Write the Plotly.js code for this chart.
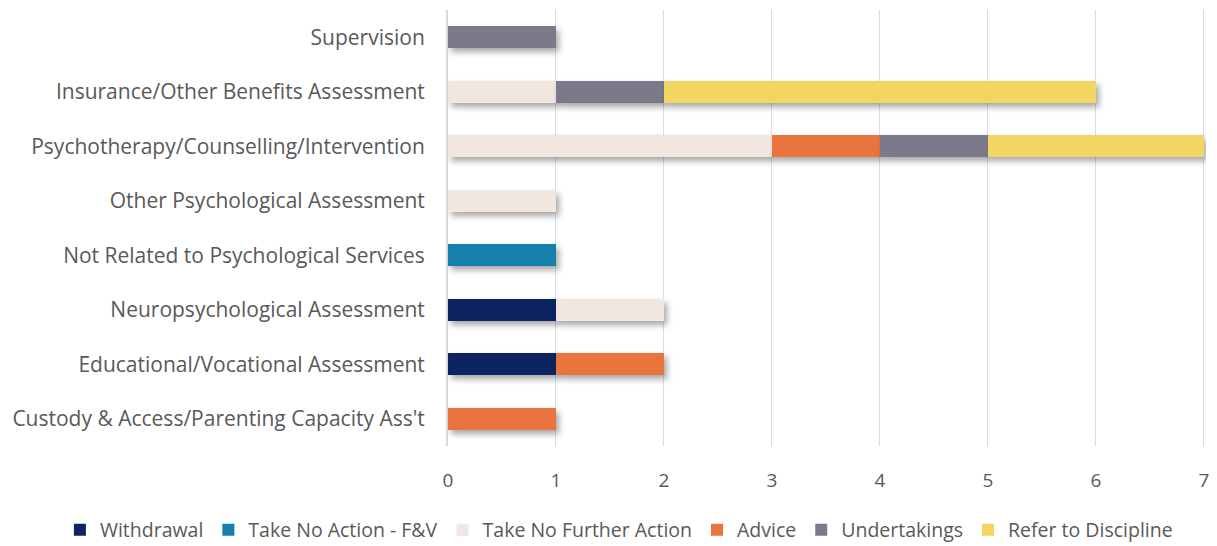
<!DOCTYPE html>
<html><head><meta charset="utf-8">
<script src="https://cdn.plot.ly/plotly-3.0.1.min.js"></script>
<style>
body{margin:0;background:#fff}
#chart{width:1217px;height:546px}
.barlayer .point path{filter:drop-shadow(3px 4px 3px rgba(0,0,0,0.35))}
</style></head>
<body><div id="chart"></div>
<script>
const categories = ["Custody & Access/Parenting Capacity Ass't","Educational/Vocational Assessment","Neuropsychological Assessment","Not Related to Psychological Services","Other Psychological Assessment","Psychotherapy/Counselling/Intervention","Insurance/Other Benefits Assessment","Supervision"];
const seriesNames = ["Withdrawal","Take No Action - F&V","Take No Further Action","Advice","Undertakings","Refer to Discipline"];
const withdrawal = [0,1,1,0,0,0,0,0];
const takeNoActionFV = [0,0,0,1,0,0,0,0];
const takeNoFurtherAction = [0,0,1,0,1,3,1,0];
const advice = [1,1,0,0,0,1,0,0];
const undertakings = [0,0,0,0,0,1,1,1];
const referToDiscipline = [0,0,0,0,0,2,4,0];
const xTicks = [0,1,2,3,4,5,6,7];
const colors = ["#0c2461","#1580aa","#f2e6e1","#e9743d","#7b7a8a","#f2d661"];
const values = [withdrawal,takeNoActionFV,takeNoFurtherAction,advice,undertakings,referToDiscipline];
const traces = values.map((v,i)=>({type:'bar',orientation:'h',name:seriesNames[i],y:categories,x:v,marker:{color:colors[i],line:{width:0}},hoverinfo:'x+name'}));
const font = "'Open Sans', sans-serif";
Plotly.newPlot('chart',traces,{
  barmode:'stack',bargap:0.6,
  width:1217,height:546,
  margin:{l:448,r:11,t:10,b:100,autoexpand:false},
  paper_bgcolor:'#fff',plot_bgcolor:'#fff',
  font:{family:font,color:'#595959',size:18},
  xaxis:{range:[0,7.02],tickvals:xTicks,showgrid:true,gridcolor:'#d3dff0',gridwidth:1,zeroline:false,showline:false,ticks:'',tickfont:{size:19,color:'#595959'},ticklabelstandoff:21,fixedrange:true,automargin:false},
  yaxis:{type:'category',categoryarray:categories,range:[-0.5,7.5],showgrid:false,zeroline:false,showline:true,linecolor:'#d9d9d9',linewidth:2,ticks:'',ticklabelstandoff:17,tickfont:{size:21,color:'#595959'},fixedrange:true,automargin:false},
  legend:{orientation:'h',x:-0.512,xanchor:'left',y:-0.193,yanchor:'middle',traceorder:'normal',font:{size:19.5,color:'#595959'},itemwidth:30,tracegroupgap:0},
  showlegend:true
},{displayModeBar:false});
</script></body></html>
